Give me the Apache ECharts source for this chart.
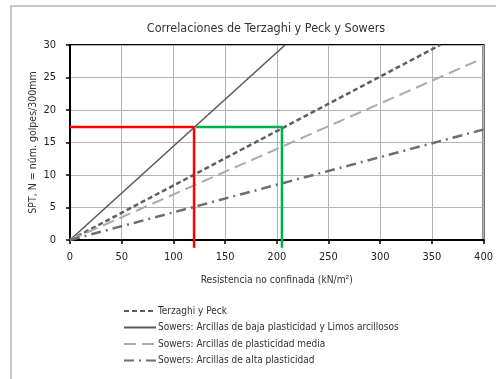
<!DOCTYPE html>
<html><head><meta charset="utf-8">
<script src="https://cdn.jsdelivr.net/npm/echarts@6/dist/echarts.min.js"></script>
<style>html,body{margin:0;padding:0;background:#fff}#c{width:496px;height:379px}</style>
</head><body><div id="c"></div>
<script>
var FONT = '"DejaVu Sans Condensed","DejaVu Sans",sans-serif';
var title = 'Correlaciones de Terzaghi y Peck y Sowers';
var xName = 'Resistencia no confinada (kN/m²)';
var yName = 'SPT, N = núm. golpes/300mm';
var xTicks = [0, 50, 100, 150, 200, 250, 300, 350, 400];
var yTicks = [0, 5, 10, 15, 20, 25, 30];
var seriesNames = ['Terzaghi y Peck', 'Sowers: Arcillas de baja plasticidad y Limos arcillosos', 'Sowers: Arcillas de plasticidad media', 'Sowers: Arcillas de alta plasticidad'];
var terzaghi = [[0, 0], [358, 30]];
var sowersBaja = [[0, 0], [208, 30]];
var sowersMedia = [[0, 0], [400, 28]];
var sowersAlta = [[0, 0], [400, 17]];
var redPath = [[0, 17.4], [120, 17.4], [120, -1.2]];
var greenPath = [[122, 17.4], [205, 17.4], [205, -1.2]];

var chart = echarts.init(document.getElementById('c'), null, {renderer: 'canvas'});
function ln(name, data, color, width, type) {
  return {name: name, type: 'line', data: data, symbol: 'none', silent: true, animation: false,
    lineStyle: {color: color, width: width, type: type}, itemStyle: {color: color}};
}
chart.setOption({
  animation: false,
  graphic: [{type: 'polyline', shape: {points: [[11, 400], [11, 6], [600, 6]]}, style: {fill: null, stroke: '#c8c8c8', lineWidth: 2}, z: -1}],
  title: {text: title, left: 261, top: 17, textAlign: 'center',
    textStyle: {fontFamily: FONT, fontSize: 12.5, fontWeight: 'normal', color: '#333'}},
  grid: {left: 70, right: 9, top: 45, bottom: 139, show: true, borderColor: '#000', borderWidth: 2},
  legend: {data: seriesNames, orient: 'vertical', left: 123, top: 306, padding: 0, itemWidth: 32, itemHeight: 10, itemGap: 6.5,
    itemStyle: {opacity: 0},
    textStyle: {fontFamily: FONT, fontSize: 10, color: '#333', padding: [0, 0, 0, -3]}},
  xAxis: {type: 'value', min: xTicks[0], max: xTicks[xTicks.length - 1], interval: 50,
    name: xName, nameLocation: 'middle', nameGap: 35, nameMoveOverlap: false,
    nameTextStyle: {fontFamily: FONT, fontSize: 10.2, color: '#333'},
    axisLine: {lineStyle: {color: '#000', width: 2}},
    axisTick: {show: true, length: 4, lineStyle: {color: '#000', width: 1.5}},
    axisLabel: {fontFamily: FONT, fontSize: 11, color: '#222', margin: 12},
    splitLine: {lineStyle: {color: '#b4b4b4', width: 1}}},
  yAxis: {type: 'value', min: yTicks[0], max: yTicks[yTicks.length - 1], interval: 5,
    name: yName, nameLocation: 'middle', nameGap: 31, nameRotate: 90, nameMoveOverlap: false,
    nameTextStyle: {fontFamily: FONT, fontSize: 10.5, color: '#333'},
    axisLine: {show: true, lineStyle: {color: '#000', width: 2}},
    axisTick: {show: true, length: 4, lineStyle: {color: '#000', width: 1.5}},
    axisLabel: {fontFamily: FONT, fontSize: 11, color: '#222', margin: 14},
    splitLine: {lineStyle: {color: '#b4b4b4', width: 1}}},
  series: [
    ln(seriesNames[0], terzaghi, '#5f5f5f', 2.5, [5, 3]),
    ln(seriesNames[1], sowersBaja, '#5a5a5a', 1.6, 'solid'),
    ln(seriesNames[2], sowersMedia, '#ababab', 2, [12, 6]),
    ln(seriesNames[3], sowersAlta, '#6e6e6e', 2.5, [10, 5, 2, 5]),
    Object.assign(ln('red', redPath, '#ff0000', 2.5, 'solid'), {clip: false, z: 5}),
    Object.assign(ln('green', greenPath, '#00b050', 2.5, 'solid'), {clip: false, z: 5})
  ]
});
</script></body></html>
